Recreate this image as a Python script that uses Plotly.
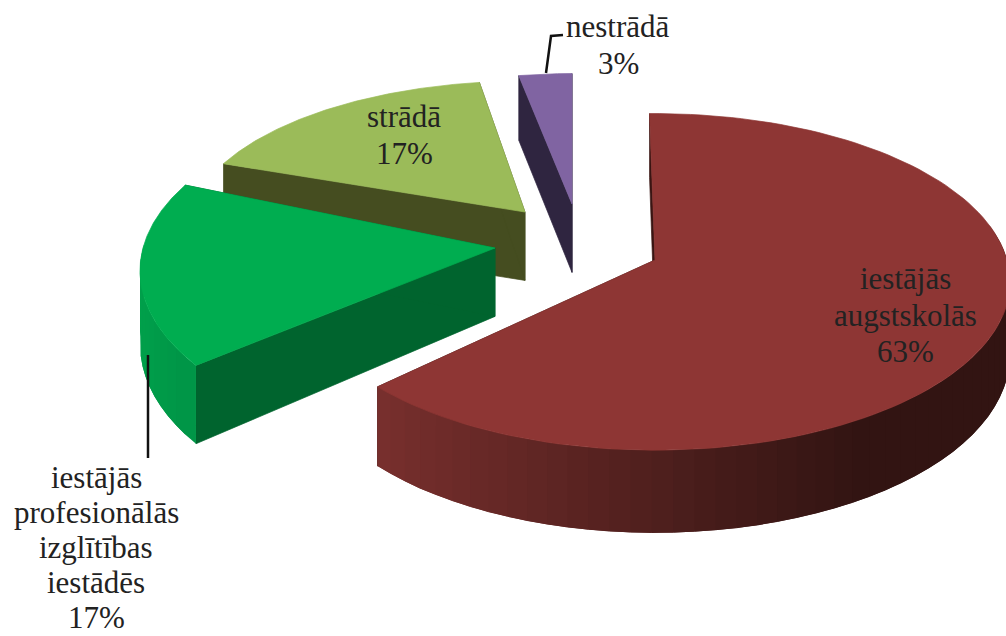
import math
import plotly.graph_objects as go

# Data
categories = [["iestājās", "augstskolās"], ["iestājās", "profesionālās", "izglītības", "iestādēs"], ["strādā"], ["nestrādā"]]
values = [63, 17, 17, 3]
percent_labels = ["63%", "17%", "17%", "3%"]

# Style / layout
START_DEG = -1.0
RADIUS = 352.0
PERSP = 0.13
DEPTH = 72.0
APEX = [(655, 260), (495, 248), (525, 212), (572, 204)]
R_SCALE = [1.0, 1.0, 0.95, 0.90]
TILT = [0.47, 0.49, 0.44, 0.46]
ROTATE = [0.0, 5.5, 3.0, 1.0]
WALL_LIMIT = [0.2, -0.05, 0.2, 0.2]
TOP = ["#8E3634", "#00AD50", "#9BBB59", "#8064A2"]
FACE = ["#3A1513", "#00642E", "#454D20", "#2F2540"]
WALL_L = [(122, 48, 46), (0, 160, 75), (110, 135, 60), (60, 48, 80)]
WALL_R = [(50, 20, 18), (0, 148, 70), (80, 100, 40), (60, 48, 80)]
LABEL_POS = [(905, 315), (96, 547), (404, 135), (618, 45)]
LINE_STEP = [36.5, 35, 36.5, 36.5]
FONT = dict(family="Liberation Serif", size=31, color="#222222")
ORDER = [2, 3, 1, 0]


def project(i, deg, drop=0.0):
    apex = APEX[i]
    a = math.radians(deg + ROTATE[i])
    u, v = math.sin(a) * R_SCALE[i], math.cos(a) * R_SCALE[i]
    s = 1.0 / (1.0 + PERSP * v)
    x = apex[0] + RADIUS * u * s
    y = apex[1] - RADIUS * TILT[i] * v * s
    return x, y + drop * s


def poly(fig, pts, color, width=0.7):
    xs = [p[0] for p in pts] + [pts[0][0]]
    ys = [p[1] for p in pts] + [pts[0][1]]
    fig.add_trace(go.Scatter(x=xs, y=ys, mode="lines", fill="toself", fillcolor=color,
                             line=dict(color=color, width=width), hoverinfo="skip", showlegend=False))


spans = []
cur = START_DEG
for val in values:
    spans.append((cur, cur + val * 3.6))
    cur += val * 3.6

fig = go.Figure()
for i in ORDER:
    a0, a1 = spans[i]
    apex = APEX[i]
    for ang in (a0, a1):
        poly(fig, [apex, project(i, ang), project(i, ang, DEPTH), (apex[0], apex[1] + DEPTH * 0.95)], FACE[i])
    n = max(2, int((a1 - a0) / 3))
    step = (a1 - a0) / n
    # wall bands: each band runs on under the next one, so that no seam shows between them
    for k in range(n - 1, -1, -1):
        d0, d1 = a0 + k * step, a0 + (k + 1) * step
        mid = (d0 + d1) / 2
        if math.cos(math.radians(mid + ROTATE[i])) > WALL_LIMIT[i]:
            continue
        xm = project(i, mid)[0]
        t = min(1, max(0, (xm - 375) / 500)) if i == 0 else min(1, max(0, (xm - 140) / 60))
        c = [round(WALL_L[i][j] + (WALL_R[i][j] - WALL_L[i][j]) * t) for j in range(3)]
        color = f"rgb({c[0]},{c[1]},{c[2]})"
        d2 = min(a1, d1 + step)
        poly(fig, [project(i, d0), project(i, d1), project(i, d2), project(i, d2, DEPTH),
                   project(i, d1, DEPTH), project(i, d0, DEPTH)], color, 0)
    arc = [project(i, a0 + (a1 - a0) * k / 120) for k in range(121)]
    poly(fig, [apex] + arc, TOP[i])

# leader lines
fig.add_trace(go.Scatter(x=[546, 551, 563], y=[73, 36, 35], mode="lines",
                         line=dict(color="#111111", width=2.5), hoverinfo="skip", showlegend=False))
fig.add_trace(go.Scatter(x=[148, 148], y=[355, 458], mode="lines",
                         line=dict(color="#111111", width=2.5), hoverinfo="skip", showlegend=False))

annotations = []
for name, pct, pos, line_step in zip(categories, percent_labels, LABEL_POS, LINE_STEP):
    lines = name + [pct]
    for j, line in enumerate(lines):
        annotations.append(dict(x=pos[0], y=pos[1] + (j - (len(lines) - 1) / 2) * line_step, text=line,
                                showarrow=False, xref="x", yref="y", font=FONT, align="center",
                                borderpad=0, borderwidth=0))

fig.update_layout(width=1006, height=636, margin=dict(l=0, r=0, t=0, b=0),
                  paper_bgcolor="white", plot_bgcolor="white", showlegend=False,
                  annotations=annotations,
                  xaxis=dict(range=[0, 1006], visible=False),
                  yaxis=dict(range=[636, 0], visible=False))
fig.write_html("out.html", config=dict(displayModeBar=False),
               post_script="document.body.style.margin='0';document.documentElement.style.overflow='hidden';")
